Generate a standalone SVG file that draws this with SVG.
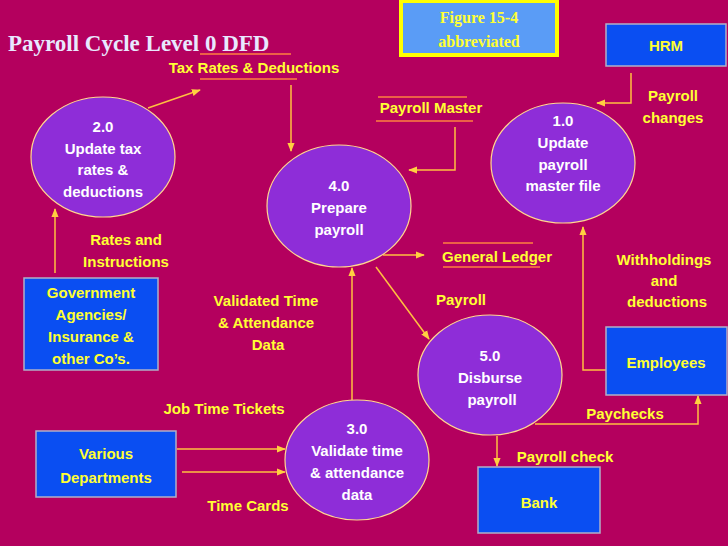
<svg xmlns="http://www.w3.org/2000/svg" width="728" height="546" viewBox="0 0 728 546">
<defs>
<marker id="ah" viewBox="0 0 10 10" refX="9" refY="5" markerWidth="6" markerHeight="6" orient="auto"><path d="M0,1 L10,5 L0,9 z" fill="#FFD040"/></marker>
<style>
.p{fill:#8E2DD8;stroke:#FFD890;stroke-width:1.2}
.b{fill:#0A4EF2;stroke:#B0B0C8;stroke-width:1.5}
.w{font-family:"Liberation Sans",Arial,sans-serif;font-weight:bold;font-size:15px;fill:#FFFFFF;text-anchor:middle}
.y{font-family:"Liberation Sans",Arial,sans-serif;font-weight:bold;font-size:15px;fill:#FFFF33;text-anchor:middle}
.c{fill:none;stroke:#FFC040;stroke-width:1.5;marker-end:url(#ah)}
.u{stroke:#FF8040;stroke-width:1.5}
</style>
</defs>
<rect width="728" height="546" fill="#B4005E"/>
<g id="title">
<text x="8" y="51" font-family="Liberation Serif,serif" font-weight="bold" font-size="23" fill="#E8E8FF">Payroll Cycle Level  0 DFD</text>
<line x1="200" y1="54" x2="291" y2="54" class="u"/>
</g>
<g id="figure">
<rect x="401" y="1" width="156" height="54" fill="#5A9CF6" stroke="#FFFF00" stroke-width="4"/>
<text x="479" y="23" font-family="Liberation Serif,serif" font-weight="bold" font-size="16" fill="#FFFF33" text-anchor="middle">Figure 15-4</text>
<text x="479" y="47" font-family="Liberation Serif,serif" font-weight="bold" font-size="16" fill="#FFFF33" text-anchor="middle">abbreviated</text>
</g>
<g id="connectors">
<path class="c" d="M148,108 L200,90"/>
<path class="c" d="M291,85 L291,151"/>
<path class="c" d="M455,127 L455,170 L409,170"/>
<path class="c" d="M631,73 L631,103 L597,103"/>
<path class="c" d="M383,255 L424,255"/>
<path class="c" d="M352,400 L352,268"/>
<path class="c" d="M376,267 L429,339"/>
<path class="c" d="M606,370 L583,370 L583,227"/>
<path class="c" d="M535,424 L698,424 L698,396"/>
<path class="c" d="M497,436 L497,466"/>
<path class="c" d="M177,449 L285,449"/>
<path class="c" d="M182,472 L285,472"/>
<path class="c" d="M55,273 L55,209"/>
</g>
<g id="p2"><ellipse class="p" cx="103" cy="157" rx="72" ry="60"/>
<text class="w" x="103" y="132">2.0</text><text class="w" x="103" y="154">Update tax</text><text class="w" x="103" y="175">rates &amp;</text><text class="w" x="103" y="197">deductions</text></g>
<g id="p4"><ellipse class="p" cx="339" cy="206" rx="72" ry="61"/>
<text class="w" x="339" y="191">4.0</text><text class="w" x="339" y="213">Prepare</text><text class="w" x="339" y="235">payroll</text></g>
<g id="p1"><ellipse class="p" cx="563" cy="163" rx="72" ry="60"/>
<text class="w" x="563" y="126">1.0</text><text class="w" x="563" y="148">Update</text><text class="w" x="563" y="170">payroll</text><text class="w" x="563" y="191">master file</text></g>
<g id="p5"><ellipse class="p" cx="490" cy="375" rx="72" ry="60"/>
<text class="w" x="490" y="361">5.0</text><text class="w" x="490" y="383">Disburse</text><text class="w" x="492" y="405">payroll</text></g>
<g id="p3"><ellipse class="p" cx="357" cy="460" rx="72" ry="60"/>
<text class="w" x="357" y="434">3.0</text><text class="w" x="357" y="456">Validate time</text><text class="w" x="357" y="478">&amp; attendance</text><text class="w" x="357" y="500">data</text></g>
<g id="hrm"><rect class="b" x="606" y="24" width="120" height="42"/><text class="y" x="666" y="51">HRM</text></g>
<g id="gov"><rect class="b" x="24" y="278" width="134" height="92"/>
<text class="y" x="91" y="298">Government</text><text class="y" x="91" y="320">Agencies/</text><text class="y" x="91" y="342">Insurance &amp;</text><text class="y" x="91" y="364">other Co’s.</text></g>
<g id="dept"><rect class="b" x="36" y="431" width="140" height="66"/>
<text class="y" x="106" y="459" font-size="17">Various</text><text class="y" x="106" y="483" font-size="17">Departments</text></g>
<g id="emp"><rect class="b" x="606" y="327" width="121" height="68"/><text class="y" x="666" y="368" font-size="17">Employees</text></g>
<g id="bank"><rect class="b" x="478" y="467" width="122" height="66"/><text class="y" x="539" y="508" font-size="17">Bank</text></g>
<g id="labels">
<text class="y" x="254" y="73">Tax Rates &amp; Deductions</text><line class="u" x1="200" y1="79" x2="297" y2="79"/>
<text class="y" x="431" y="113">Payroll Master</text><line class="u" x1="378" y1="97" x2="467" y2="97"/><line class="u" x1="376" y1="121" x2="473" y2="121"/>
<text class="y" x="673" y="101">Payroll</text><text class="y" x="673" y="123">changes</text>
<text class="y" x="126" y="245">Rates and</text><text class="y" x="126" y="267">Instructions</text>
<text class="y" x="497" y="262">General Ledger</text><line class="u" x1="443" y1="243" x2="533" y2="243"/><line class="u" x1="443" y1="267" x2="540" y2="267"/>
<text class="y" x="664" y="265">Withholdings</text><text class="y" x="664" y="286">and</text><text class="y" x="667" y="307">deductions</text>
<text class="y" x="266" y="306">Validated Time</text><text class="y" x="266" y="328">&amp; Attendance</text><text class="y" x="268" y="350">Data</text>
<text class="y" x="461" y="305">Payroll</text>
<text class="y" x="224" y="414">Job Time Tickets</text>
<text class="y" x="248" y="511">Time Cards</text>
<text class="y" x="625" y="419">Paychecks</text>
<text class="y" x="565" y="462">Payroll check</text>
</g>
</svg>
